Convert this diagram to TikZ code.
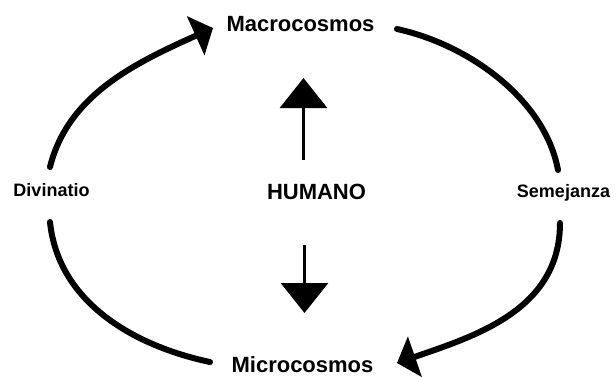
\documentclass[tikz,border=0pt]{standalone}
\usepackage{fontspec}
\setmainfont{Liberation Sans}
\usetikzlibrary{arrows.meta}
\newcommand{\wtext}[1]{\scalebox{1.0}[1.0]{#1}}
\tikzset{
  big/.style={font=\fontsize{22}{24}\selectfont\bfseries, anchor=base, inner sep=0pt},
  small/.style={font=\fontsize{18}{20}\selectfont\bfseries, anchor=base, inner sep=0pt},
  arc/.style={line width=6pt, line cap=round},
  archead/.style={arc, -{Triangle[length=19pt,width=42pt]}},
  vert/.style={line width=3pt, -{Triangle[length=30pt,width=47pt]}}
}
\begin{document}
\begin{tikzpicture}[x=1pt,y=-1pt]
\useasboundingbox (0,0) rectangle (616,376);
% labels
\node[big]   (macro)  at (300.5,31)  {\wtext{Macrocosmos}};
\node[big]   (micro)  at (302.5,372) {\wtext{Microcosmos}};
\node[big]   (humano) at (316.5,199) {\wtext{HUMANO}};
\node[small] (divin)  at (51.5,196)  {\wtext{Divinatio}};
\node[small] (semej)  at (563.5,197) {\wtext{Semejanza}};
% arc end points
\coordinate (dTop) at (50,167);
\coordinate (dBot) at (50,222);
\coordinate (sTop) at (558,170);
\coordinate (sBot) at (560,223);
\coordinate (maL) at (213,28);
\coordinate (maR) at (397,29);
\coordinate (miL) at (210,362);
\coordinate (miR) at (397,363);
% arcs
\draw[archead] (dTop) .. controls (68,95) and (135,63) .. (maL);
\draw[arc] (maR) .. controls (470,45) and (545,100) .. (sTop);
\draw[arc] (dBot) .. controls (58,300) and (130,345) .. (miL);
\draw[archead] (sBot) .. controls (560,310) and (475,336) .. (miR);
% vertical arrows
\coordinate (upS) at (303.5,160);
\coordinate (upT) at (303.5,78);
\coordinate (dnS) at (304.5,245);
\coordinate (dnT) at (304.5,313);
\draw[vert] (upS) -- (upT);
\draw[vert] (dnS) -- (dnT);
\end{tikzpicture}
\end{document}
